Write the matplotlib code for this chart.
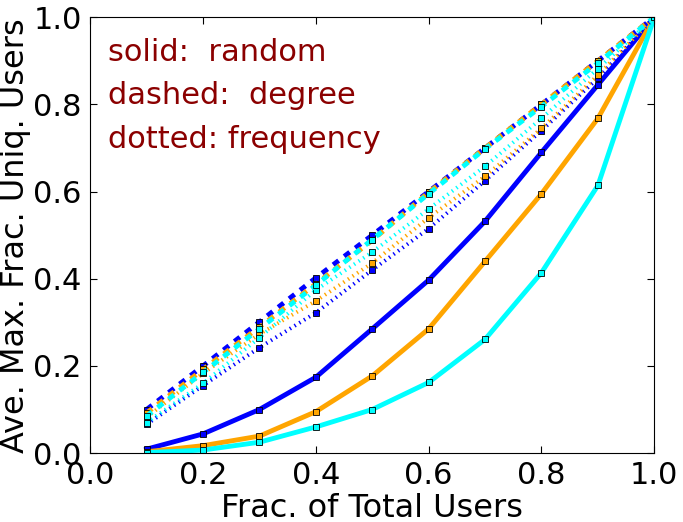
import matplotlib
matplotlib.use("Agg")
import matplotlib.pyplot as plt

frac = [0.1, 0.2, 0.3, 0.4, 0.5, 0.6, 0.7, 0.8, 0.9, 1.0]

# solid: random
blue_random = [0.009, 0.044, 0.100, 0.174, 0.285, 0.397, 0.532, 0.690, 0.845, 1.0]
orange_random = [0.003, 0.017, 0.039, 0.095, 0.177, 0.285, 0.440, 0.595, 0.768, 1.0]
cyan_random = [0.001, 0.007, 0.025, 0.060, 0.100, 0.162, 0.261, 0.414, 0.614, 1.0]

# dashed: degree
blue_degree = [0.100, 0.200, 0.301, 0.402, 0.500, 0.600, 0.700, 0.800, 0.900, 1.0]
orange_degree = [0.092, 0.192, 0.289, 0.388, 0.488, 0.598, 0.700, 0.800, 0.900, 1.0]
cyan_degree = [0.085, 0.185, 0.285, 0.385, 0.490, 0.595, 0.698, 0.795, 0.895, 1.0]

# dotted: frequency
blue_freq = [0.066, 0.155, 0.242, 0.322, 0.420, 0.515, 0.625, 0.740, 0.860, 1.0]
orange_freq = [0.082, 0.183, 0.273, 0.349, 0.436, 0.540, 0.635, 0.745, 0.867, 1.0]
cyan_freq = [0.070, 0.160, 0.265, 0.374, 0.461, 0.560, 0.658, 0.768, 0.882, 1.0]

colors = ['#0000ff', '#ffa500', '#00ffff']

plt.rcParams['lines.scale_dashes'] = False

fig = plt.figure(figsize=(6.83, 5.22), dpi=100)
ax = fig.add_axes([0.132, 0.132, 0.826, 0.835])

mk = dict(marker='s', markersize=5, markeredgecolor='black', markeredgewidth=0.6)

for ys, c in zip([blue_random, orange_random, cyan_random], colors):
    ax.plot(frac, ys, color=c, lw=3.5, linestyle='-', **mk)
for ys, c in zip([blue_freq, orange_freq, cyan_freq], colors):
    ax.plot(frac, ys, color=c, lw=2.8, linestyle=(0, (1, 3)), **mk)
for ys, c in zip([blue_degree, orange_degree, cyan_degree], colors):
    ax.plot(frac, ys, color=c, lw=3.5, linestyle=(0, (5, 5)), **mk)

ax.text(0.032, 0.9, "solid:  random", color='#8b0000', fontsize=22)
ax.text(0.032, 0.8, "dashed:  degree", color='#8b0000', fontsize=22)
ax.text(0.032, 0.7, "dotted: frequency", color='#8b0000', fontsize=22)

ax.set_xlim(0, 1)
ax.set_ylim(0, 1)
ax.set_xticks([0.0, 0.2, 0.4, 0.6, 0.8, 1.0])
ax.set_yticks([0.0, 0.2, 0.4, 0.6, 0.8, 1.0])
ax.tick_params(direction='in', top=True, right=True, labelsize=22, length=5, pad=6)
ax.set_xlabel("Frac. of Total Users", fontsize=23, labelpad=2)
ax.set_ylabel("Ave. Max. Frac. Uniq. Users", fontsize=23, labelpad=2)

fig.savefig("out.png", dpi=100)
